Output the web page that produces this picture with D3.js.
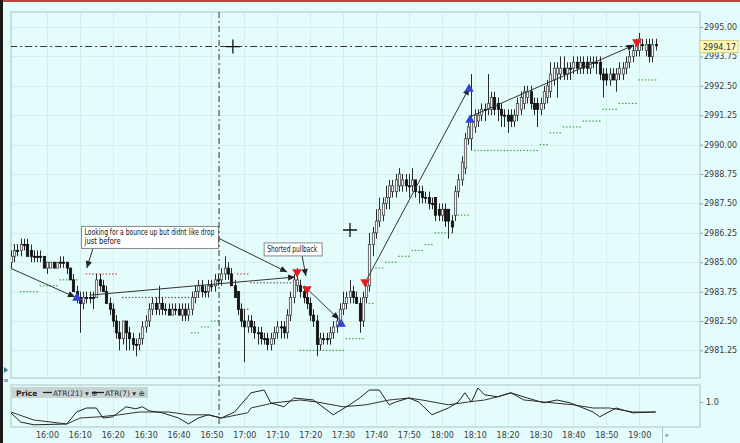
<!DOCTYPE html>
<html><head><meta charset="utf-8">
<script src="https://cdn.jsdelivr.net/npm/d3@7"></script>
<style>
body{margin:0;background:#e3fbfb;}
text{font-family:"DejaVu Sans",sans-serif;}
</style>
</head><body>
<svg id="c" width="740" height="443"></svg>
<script>
// ---------- DATA ----------
const opens=[2985.00,2985.25,2985.50,2985.50,2985.75,2985.75,2985.50,2985.25,2985.25,2985.25,2985.25,2984.75,2984.75,2985.00,2984.75,2985.00,2985.00,2985.00,2984.75,2984.25,
2983.75,2983.50,2983.25,2983.50,2983.50,2983.50,2983.50,2984.25,2984.00,2983.75,2983.25,2983.00,2982.50,2982.00,2981.75,2982.50,2982.00,2981.75,2981.50,2981.50,
2981.75,2982.25,2982.50,2983.00,2983.25,2983.00,2983.25,2983.00,2983.00,2982.75,2983.00,2983.00,2982.75,2983.00,2982.75,2983.00,2983.50,2983.75,2984.00,2983.75,
2983.75,2984.00,2984.00,2984.25,2984.25,2984.50,2984.75,2984.50,2984.00,2983.75,2983.00,2982.50,2982.25,2982.50,2982.25,2982.00,2982.00,2981.75,2981.75,2981.50,
2981.75,2982.00,2982.25,2982.25,2982.00,2982.75,2983.50,2984.00,2984.00,2983.75,2983.50,2983.25,2982.75,2982.50,2981.50,2981.75,2981.75,2981.75,2982.00,2982.25,
2982.50,2983.00,2983.25,2983.50,2983.75,2983.50,2983.25,2982.50,2983.50,2984.00,2985.75,2986.25,2986.75,2987.00,2987.50,2987.75,2988.00,2988.00,2988.25,2988.25,
2988.50,2988.25,2988.25,2988.50,2988.00,2988.00,2987.75,2987.75,2987.50,2987.75,2987.25,2987.00,2987.25,2987.25,2986.75,2987.00,2988.00,2988.50,2989.00,2990.25,
2990.25,2990.75,2991.00,2991.25,2991.50,2991.50,2991.50,2992.00,2991.75,2991.50,2991.25,2991.25,2991.25,2991.00,2991.25,2991.50,2991.75,2992.00,2992.25,2991.75,
2991.75,2991.50,2991.75,2992.00,2992.25,2992.75,2993.00,2993.00,2993.25,2993.00,2993.25,2993.25,2993.50,2993.25,2993.50,2993.50,2993.25,2993.50,2993.50,2993.50,
2993.00,2993.00,2992.75,2993.00,2992.75,2993.00,2993.00,2993.25,2993.50,2993.75,2994.00,2994.00,2994.25,2994.00,2994.25,2993.75,2994.25];
const highs=[2985.50,2985.75,2985.75,2986.00,2986.00,2986.00,2985.75,2985.50,2985.50,2985.50,2985.25,2985.00,2985.00,2985.00,2985.00,2985.25,2985.25,2985.00,2984.75,2984.50,
2984.00,2983.75,2983.75,2983.75,2983.75,2983.75,2984.50,2984.50,2984.25,2984.00,2983.50,2983.25,2982.75,2982.50,2982.50,2982.50,2982.25,2982.00,2981.75,2982.00,
2982.50,2982.75,2983.25,2983.50,2983.50,2984.00,2983.50,2983.25,2983.25,2983.25,2983.25,2983.25,2983.25,2983.25,2983.25,2983.75,2984.00,2984.25,2984.25,2984.00,
2984.25,2984.25,2984.50,2984.50,2984.75,2985.25,2985.00,2984.75,2984.25,2983.75,2983.25,2983.00,2982.75,2982.75,2982.50,2982.25,2982.25,2982.00,2982.00,2982.00,
2982.25,2982.50,2982.50,2982.50,2983.00,2983.75,2984.50,2984.75,2984.25,2984.00,2983.75,2983.50,2983.00,2982.75,2982.00,2982.00,2982.00,2982.25,2982.50,2982.75,
2983.25,2983.75,2983.75,2984.25,2984.00,2983.75,2983.50,2983.75,2984.25,2986.25,2986.50,2987.25,2987.75,2987.75,2988.25,2988.50,2988.50,2988.75,2989.00,2988.75,
2988.75,2988.75,2989.00,2988.50,2988.25,2988.25,2988.00,2988.00,2987.75,2987.75,2987.50,2987.50,2987.50,2987.25,2987.00,2988.25,2988.75,2989.50,2990.50,2991.00,
2993.00,2991.50,2991.50,2991.75,2991.75,2993.00,2992.25,2992.25,2992.00,2991.75,2991.50,2991.50,2991.50,2991.50,2992.00,2992.25,2992.50,2992.50,2992.50,2992.00,
2992.00,2992.00,2992.50,2992.75,2993.50,2993.50,2993.50,2993.75,2993.75,2993.50,2993.50,2993.75,2993.75,2993.75,2993.75,2993.75,2993.75,2993.75,2993.75,2993.75,
2993.25,2993.25,2993.25,2993.25,2993.25,2993.50,2993.50,2993.75,2994.00,2994.25,2994.50,2994.75,2994.50,2994.50,2994.50,2994.50,2994.50];
const lows=[2984.75,2985.00,2985.25,2985.25,2985.50,2985.25,2985.00,2985.00,2985.00,2985.00,2984.75,2984.50,2984.75,2984.75,2984.75,2984.75,2984.75,2984.50,2984.25,2983.75,
2983.25,2982.00,2983.00,2983.25,2983.25,2983.00,2983.50,2983.75,2983.75,2983.25,2982.75,2982.25,2981.75,2981.25,2981.50,2981.25,2981.25,2981.25,2981.00,2981.25,
2981.50,2982.00,2982.25,2982.75,2982.75,2982.75,2982.75,2982.75,2982.75,2982.75,2982.75,2982.75,2982.50,2982.50,2982.50,2982.75,2983.25,2983.50,2983.50,2983.50,
2983.50,2983.75,2983.75,2984.00,2984.00,2984.25,2984.25,2984.00,2983.50,2982.75,2982.25,2980.75,2982.00,2982.00,2981.75,2981.50,2981.50,2981.50,2981.25,2981.25,
2981.50,2981.75,2981.75,2981.75,2981.75,2982.50,2983.25,2983.75,2983.50,2983.25,2983.00,2982.50,2982.25,2981.00,2981.25,2981.50,2981.50,2981.50,2981.75,2982.00,
2982.25,2982.75,2983.00,2983.25,2983.25,2983.25,2982.00,2982.25,2983.25,2983.75,2985.25,2986.00,2986.50,2986.75,2987.25,2987.25,2987.75,2987.75,2988.00,2988.00,
2988.00,2987.75,2988.00,2987.75,2987.50,2987.50,2987.50,2987.25,2987.25,2986.75,2986.75,2986.75,2986.50,2986.00,2986.25,2986.75,2987.75,2988.25,2988.75,2990.00,
2989.75,2990.50,2990.75,2991.00,2991.00,2991.25,2991.25,2991.25,2991.00,2990.75,2990.75,2990.50,2990.75,2990.75,2991.00,2991.25,2991.50,2991.75,2991.50,2991.25,
2990.75,2991.25,2991.50,2991.75,2992.00,2992.50,2992.00,2992.75,2992.75,2992.75,2992.75,2993.00,2993.00,2993.00,2993.00,2993.00,2993.00,2993.25,2993.00,2992.75,
2992.00,2992.50,2992.50,2992.75,2992.25,2992.75,2992.75,2993.00,2993.25,2993.50,2993.75,2993.75,2994.00,2993.75,2993.50,2993.50,2994.00];
const closes=[2985.25,2985.50,2985.50,2985.75,2985.75,2985.25,2985.25,2985.25,2985.25,2985.25,2984.75,2985.00,2985.00,2984.75,2985.00,2985.00,2985.00,2984.75,2984.25,2983.75,
2983.50,2983.25,2983.50,2983.50,2983.50,2983.50,2984.25,2984.00,2983.75,2983.25,2983.00,2982.50,2982.00,2981.75,2982.50,2982.00,2981.75,2981.50,2981.50,2981.75,
2982.25,2982.50,2983.00,2983.25,2983.00,2983.25,2983.00,2983.00,2982.75,2983.00,2983.00,2982.75,2983.00,2982.75,2983.00,2983.50,2983.75,2984.00,2983.75,2983.75,
2984.00,2984.00,2984.25,2984.25,2984.50,2984.75,2984.50,2984.00,2983.50,2983.00,2982.50,2982.25,2982.50,2982.25,2982.00,2982.00,2981.75,2981.75,2981.50,2981.75,
2982.00,2982.25,2982.25,2982.00,2982.75,2983.50,2984.25,2984.25,2983.75,2983.50,2983.25,2982.75,2982.50,2981.50,2981.75,2981.75,2981.75,2982.00,2982.25,2982.50,
2983.00,2983.25,2983.50,2983.75,2983.50,2983.25,2982.50,2983.50,2984.00,2985.75,2986.25,2986.75,2987.25,2987.50,2987.75,2988.25,2988.25,2988.50,2988.75,2988.50,
2988.25,2988.25,2988.50,2988.00,2988.00,2987.75,2987.75,2987.50,2987.50,2987.00,2987.00,2987.25,2986.75,2986.75,2986.50,2988.00,2988.50,2989.25,2990.25,2990.75,
2991.00,2991.25,2991.25,2991.50,2991.50,2991.75,2992.00,2991.50,2991.50,2991.25,2991.25,2991.00,2991.00,2991.25,2991.75,2992.00,2992.25,2992.25,2991.75,2991.50,
2991.50,2991.75,2992.25,2992.50,2993.00,2993.25,2993.25,2993.25,2993.00,2993.25,2993.25,2993.50,2993.25,2993.50,2993.25,2993.25,2993.50,2993.50,2993.50,2993.00,
2992.75,2992.75,2993.00,2992.75,2993.00,2993.25,2993.25,2993.50,2993.75,2994.00,2994.25,2994.50,2994.25,2994.25,2993.75,2994.25,2994.25];

const priceTicks=[2995.00,2993.75,2992.50,2991.25,2990.00,2988.75,2987.50,2986.25,2985.00,2983.75,2982.50,2981.25];
const timeTickLabels=["16:00","16:10","16:20","16:30","16:40","16:50","17:00","17:10","17:20","17:30","17:40","17:50","18:00","18:10","18:20","18:30","18:40","18:50","19:00"];
const atrTicks=[1.0];

// ATR lines (bar index, value)
const atr7Idx=[0,3,7,17,20,23,26,28,31,35,38,40,42,46,51,54,57,60,64,68,72,73,77,79,83,86,92,98,103,106,109,112,114,115,117,121,124,128,133,136,138,140,142,144,148,152,157,162,166,170,177,179,184,189,196];
const atr7Val=[0.73,0.50,0.43,0.45,0.75,0.85,0.85,0.60,0.63,0.88,0.83,0.88,0.78,0.73,0.60,0.45,0.60,0.68,0.60,0.75,1.13,1.23,1.30,0.98,0.88,1.10,1.05,0.68,0.93,1.10,1.30,1.30,1.05,0.93,1.00,1.10,1.00,0.68,0.85,1.00,1.23,1.00,1.35,1.18,1.13,1.23,1.10,0.98,1.05,0.98,0.75,0.63,0.85,0.73,0.75];
const atr21Idx=[0,7,17,21,27,33,39,48,54,60,64,72,73,80,88,93,101,108,115,121,125,133,139,144,148,152,156,162,171,177,182,189,196];
const atr21Val=[0.75,0.55,0.45,0.60,0.63,0.68,0.75,0.75,0.68,0.68,0.60,0.73,0.85,0.98,1.05,1.00,0.88,0.93,1.05,1.10,1.05,0.93,1.00,1.05,1.13,1.23,1.05,1.00,0.93,0.85,0.85,0.75,0.75];

// trailing stop dots: from bar, to bar, level, kind
const stopFrom=[0,23,69,34,73,69,3,9,15,55,58,61,88,102,109,111,114,118,122,126,129,135,141,161,164,168,174,180,185,191];
const stopTo  =[4,32,72,57,86,72,8,14,20,57,60,63,101,107,110,113,117,121,125,128,134,139,160,163,167,173,179,184,190,196];
const stopLevel=[2985.75,2984.50,2984.50,2983.50,2984.125,2983.00,2983.75,2984.00,2984.25,2982.00,2982.25,2982.50,2981.25,2981.75,2983.25,2984.75,2985.00,2985.25,2985.50,2985.75,2986.25,2987.00,2989.75,2990.00,2990.50,2990.75,2991.00,2991.50,2991.75,2992.75];
const stopKind=["r","r","r","k","k","k","g","g","g","g","g","g","g","g","g","g","g","g","g","g","g","g","g","g","g","g","g","g","g","g"];

// signals: bar index, price, type
const sigIdx=[20.1,100.4,139.3,139.6,87,90,107.7,190.3];
const sigPrice=[2983.48,2982.37,2992.36,2991.05,2984.58,2983.86,2984.16,2994.36];
const sigType=["buy","buy","buy","buy","sell","sell","sell","sell"];

// arrows: start bar, start price, end bar, end price
const arrowI0=[-0.2,24,25,63,88.5,90.4,108.3,140.2];
const arrowP0=[2984.75,2983.60,2985.60,2986.03,2985.30,2983.82,2984.29,2991.22];
const arrowI1=[19.5,86.4,23.1,84,89.7,99.7,139.3,189.4];
const arrowP1=[2983.52,2984.37,2984.75,2984.58,2984.41,2982.58,2992.41,2994.23];

const noteText=[["Looking for a bounce up but didnt like drop","just before"],["Shorted pullback"]];
const noteI=[21.5,77];
const noteP=[2986.52,2985.82];

const hLineLevel=2994.17, hLineFrom=-0.2, hLineTo=189.5;
const vLineIdx=63.3;
const crossIdx=[67.5,103.1], crossPrice=[2994.17,2986.37];

// ---------- SCALES ----------
const start=new Date(2010,0,4,15,49,0);
const tAt=i=>new Date(start.getTime()+i*60000);
const L=11,R=700,T=12,B=378, LT=385, LB=427;
const x=d3.scaleTime().domain([tAt(0.058),tAt(209.48)]).range([L,R]);
const y=d3.scaleLinear().domain([2980.077,2995.638]).range([B,T]);
const ya=d3.scaleLinear().domain([0.375,1.425]).range([LB,LT]);
const xi=i=>x(tAt(i));

const svg=d3.select("#c");
svg.append("rect").attr("width",740).attr("height",443).attr("fill","#e3fbfb");
svg.append("rect").attr("x",0).attr("y",0).attr("width",740).attr("height",2).attr("fill","#b8453a");
svg.append("rect").attr("x",0).attr("y",0).attr("width",3).attr("height",443).attr("fill","#1b1b1b");

const defs=svg.append("defs");
defs.append("clipPath").attr("id","cm").append("rect").attr("x",L).attr("y",T).attr("width",R-L).attr("height",B-T);
defs.append("clipPath").attr("id","cl").append("rect").attr("x",L).attr("y",LT).attr("width",R-L).attr("height",LB-LT);
defs.append("marker").attr("id","ah").attr("viewBox","0 0 10 10").attr("refX",10).attr("refY",5)
  .attr("markerWidth",8).attr("markerHeight",7).attr("markerUnits","userSpaceOnUse").attr("orient","auto")
  .append("path").attr("d","M0,0.5 L10,5 L0,9.5 z").attr("fill","#222");

// panels
svg.append("rect").attr("x",L).attr("y",T).attr("width",R-L).attr("height",B-T).attr("fill","#e4fcfc").attr("stroke","#aac4c4");
svg.append("rect").attr("x",L).attr("y",LT).attr("width",R-L).attr("height",LB-LT).attr("fill","#e4fcfc").attr("stroke","#aac4c4");

const tickDates=timeTickLabels.map(s=>{const [h,m]=s.split(":").map(Number);return new Date(2010,0,4,h,m,0);});

// grid
const grid=svg.append("g").attr("stroke","#d4eeee").attr("stroke-width",1);
grid.selectAll(".gv").data(tickDates).join("line").attr("x1",d=>Math.round(x(d))+0.5).attr("x2",d=>Math.round(x(d))+0.5).attr("y1",T+1).attr("y2",B-1);
grid.selectAll(".gv2").data(tickDates).join("line").attr("x1",d=>Math.round(x(d))+0.5).attr("x2",d=>Math.round(x(d))+0.5).attr("y1",LT+1).attr("y2",LB-1);
grid.selectAll(".gh").data(priceTicks).join("line").attr("x1",L+1).attr("x2",R-1).attr("y1",d=>Math.round(y(d))+0.5).attr("y2",d=>Math.round(y(d))+0.5);

// price axis
const pa=svg.append("g").attr("transform",`translate(${R},0)`)
  .call(d3.axisRight(y).tickValues(priceTicks).tickFormat(d3.format(".2f")).tickSize(3).tickPadding(1));
pa.select(".domain").remove();
pa.selectAll("line").attr("stroke","#8aa");
pa.selectAll("text").attr("font-size",8).attr("fill","#3c3c3c").attr("font-family","DejaVu Sans");

// atr axis
const aa=svg.append("g").attr("transform",`translate(${R},0)`)
  .call(d3.axisRight(ya).tickValues(atrTicks).tickFormat(d3.format(".1f")).tickSize(3).tickPadding(3));
aa.select(".domain").remove();
aa.selectAll("line").attr("stroke","#8aa");
aa.selectAll("text").attr("font-size",8).attr("fill","#3c3c3c").attr("font-family","DejaVu Sans");

// time axis
const ta=svg.append("g").attr("transform",`translate(0,${LB})`)
  .call(d3.axisBottom(x).tickValues(tickDates).tickFormat(d3.timeFormat("%H:%M")).tickSize(0).tickPadding(5));
ta.select(".domain").remove();
ta.selectAll("text").attr("font-size",8).attr("fill","#3c3c3c").attr("font-family","DejaVu Sans");
svg.append("line").attr("x1",662.5).attr("x2",662.5).attr("y1",LB).attr("y2",443).attr("stroke","#aac4c4");
svg.append("text").attr("x",665).attr("y",439).attr("font-size",7).attr("fill","#555").text("*");

// main plot
const mp=svg.append("g").attr("clip-path","url(#cm)");

// stops
const stopCol={r:"#d23a3a",k:"#555",g:"#3aa03a"};
stopFrom.forEach((f,k)=>{
  const idx=d3.range(f,stopTo[k]+1);
  mp.append("g").attr("fill",stopCol[stopKind[k]]).selectAll("rect").data(idx).join("rect")
    .attr("x",i=>xi(i)-0.7).attr("y",y(stopLevel[k])-0.6).attr("width",1.4).attr("height",1.2);
});

// horizontal and vertical lines
mp.append("line").attr("x1",xi(hLineFrom)).attr("x2",xi(hLineTo)).attr("y1",y(hLineLevel)).attr("y2",y(hLineLevel))
  .attr("stroke","#333").attr("stroke-dasharray","7,3,2,3");
svg.append("line").attr("x1",xi(vLineIdx)).attr("x2",xi(vLineIdx)).attr("y1",T).attr("y2",LB)
  .attr("stroke","#333").attr("stroke-dasharray","6,3,2,3");

// candles
const bw=2.3;
const cg=mp.append("g");
const idxs=d3.range(opens.length);
cg.selectAll(".wick").data(idxs).join("line")
  .attr("x1",i=>Math.round(xi(i))+0.5).attr("x2",i=>Math.round(xi(i))+0.5)
  .attr("y1",i=>y(highs[i])).attr("y2",i=>y(lows[i])).attr("stroke","#2a2a2a").attr("stroke-width",1);
cg.selectAll(".body").data(idxs).join("rect")
  .attr("x",i=>Math.round(xi(i))+0.5-bw/2)
  .attr("y",i=>y(Math.max(opens[i],closes[i])))
  .attr("width",bw)
  .attr("height",i=>Math.max(1,Math.abs(y(opens[i])-y(closes[i]))))
  .attr("fill",i=>closes[i]>opens[i]?"#f2f2f2":"#111")
  .attr("stroke",i=>closes[i]>opens[i]?"#4a4a4a":"#111").attr("stroke-width",0.8);

// arrows
arrowI0.forEach((a,k)=>{
  mp.append("line").attr("x1",xi(a)).attr("y1",y(arrowP0[k])).attr("x2",xi(arrowI1[k])).attr("y2",y(arrowP1[k]))
    .attr("stroke","#333").attr("stroke-width",1).attr("marker-end","url(#ah)");
});

// signals
sigIdx.forEach((s,k)=>{
  const buy=sigType[k]==="buy";
  mp.append("path").attr("d",d3.symbol().type(d3.symbolTriangle).size(40)())
    .attr("transform",`translate(${xi(s)},${y(sigPrice[k])}) rotate(${buy?0:180})`)
    .attr("fill",buy?"#3344d0":"#e02020");
});

// crosshairs
crossIdx.forEach((c,k)=>{
  const cx=xi(c),cy=y(crossPrice[k]);
  mp.append("path").attr("d",`M${cx-7},${cy}H${cx+7}M${cx},${cy-7}V${cy+7}`).attr("stroke","#111").attr("stroke-width",1.3);
});

// notes
const noteWidths=[[130,36],[50]];
const noteBoxW=[137,58];
noteText.forEach((lines,k)=>{
  const nx=xi(noteI[k]), ny=y(noteP[k]);
  const g=mp.append("g");
  const bh=lines.length*9+4;
  g.append("rect").attr("x",nx).attr("y",ny).attr("width",noteBoxW[k]).attr("height",bh).attr("fill","#fff").attr("stroke","#888");
  lines.forEach((t,j)=>{
    g.append("text").attr("x",nx+3).attr("y",ny+9+j*9).attr("font-size",8).attr("fill","#111")
      .attr("font-family","Liberation Sans Narrow, Liberation Sans, Arial").attr("textLength",noteWidths[k][j]).attr("lengthAdjust","spacingAndGlyphs").text(t);
  });
});

// price label
svg.append("rect").attr("x",R).attr("y",y(hLineLevel)-6).attr("width",38).attr("height",12).attr("fill","#fbf8b8").attr("stroke","#d8d27a");
svg.append("text").attr("x",R+3).attr("y",y(hLineLevel)+3).attr("font-size",8).attr("fill","#333").text(d3.format(".2f")(hLineLevel));

// ATR panel
const lp=svg.append("g").attr("clip-path","url(#cl)");
const ln=d3.line().x(d=>xi(d[0])).y(d=>ya(d[1]));
lp.append("path").datum(atr21Idx.map((i,k)=>[i,atr21Val[k]])).attr("d",ln).attr("fill","none").attr("stroke","#333").attr("stroke-width",1);
lp.append("path").datum(atr7Idx.map((i,k)=>[i,atr7Val[k]])).attr("d",ln).attr("fill","none").attr("stroke","#222").attr("stroke-width",1);

// legend
const lg=svg.append("g");
lg.append("rect").attr("x",12).attr("y",387).attr("width",136).attr("height",11).attr("fill","#c8d4d4");
lg.append("text").attr("x",16).attr("y",395.5).attr("font-size",7.5).attr("font-weight","bold").attr("fill","#222").text("Price");
lg.append("line").attr("x1",43).attr("x2",52).attr("y1",392.5).attr("y2",392.5).attr("stroke","#222").attr("stroke-width",1.3);
lg.append("text").attr("x",53).attr("y",395.5).attr("font-size",7.5).attr("fill","#333").text("ATR(21) ▾ ⊕");
lg.append("line").attr("x1",92).attr("x2",104).attr("y1",392.5).attr("y2",392.5).attr("stroke","#222").attr("stroke-width",1.3);
lg.append("text").attr("x",105).attr("y",395.5).attr("font-size",7.5).attr("fill","#333").text("ATR(7) ▾ ⊕");

// left small icons
svg.append("path").attr("d","M4,367 L8,370 L4,373 Z").attr("fill","#3a7a8a");
svg.append("rect").attr("x",4).attr("y",379).attr("width",4).attr("height",3).attr("fill","#9ab");
</script>
</body></html>
